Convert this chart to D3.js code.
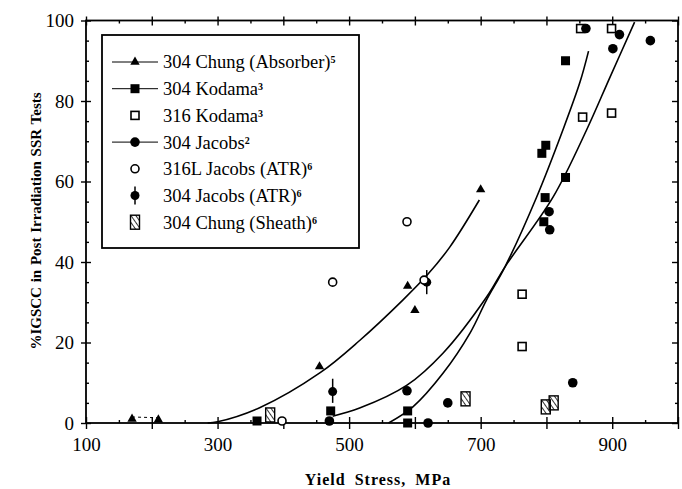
<!DOCTYPE html>
<html>
<head>
<meta charset="utf-8">
<script src="https://cdn.jsdelivr.net/npm/d3@7"></script>
<style>
body { margin: 0; background: #fff; }
text { font-family: "Liberation Serif", "DejaVu Serif", serif; fill: #000; }
</style>
</head>
<body>
<script>
// data (MPa, % IGSCC)
var chungAbsorber = [[170, 1], [210, 0.8], [455, 14], [589, 34], [600, 28], [700, 58]];
var kodama304 = [[360, 0.5], [472, 3], [589, 0], [589, 3], [793, 67], [799, 69], [798, 56], [796, 50], [829, 61], [829, 90]];
var kodama316 = [[763, 19], [763, 32], [852, 98], [899, 98], [855, 76], [899, 77]];
var jacobs304 = [[470, 0.5], [588, 8], [620, 0], [650, 5], [804, 52.5], [805, 48], [840, 10], [860, 98], [901, 93], [911, 96.5], [958, 95]];
var jacobsATR316L = [[398, 0.5], [475, 35], [588, 50], [614, 35.5]];
var jacobsATR304 = [[475, 7.8, 5, 11], [618, 35, 32, 38]];   // x, y, low, high
var chungSheath = [[380, 2], [677, 6], [799, 4], [811, 5]];

// fitted curves
var chungFit = [[285, 0], [300, 0.3], [364, 3.8], [456, 12.5], [516, 20.5], [582, 30.6], [620, 37], [653, 43.7], [698, 55.4]];
var kodamaFit = [[475, 1.7], [516, 3.7], [588, 9.4], [643, 17.4], [709, 31.3], [737, 38.8], [810, 56.1], [861, 72.8], [896, 85.7], [934, 99.6]];
var jacobsFit = [[560, 0], [597, 4], [643, 12.4], [684, 22.4], [709, 30.6], [737, 38.8], [785, 56.1], [825, 72.8], [851, 84.7], [864, 92.4]];

var xLabels = [100, 300, 500, 700, 900];
var yLabels = [0, 20, 40, 60, 80, 100];

var legendItems = [
  {name: "304 Chung (Absorber)", sup: "5", sym: "tri", line: true},
  {name: "304 Kodama", sup: "3", sym: "sq", line: true},
  {name: "316 Kodama", sup: "3", sym: "osq", line: false},
  {name: "304 Jacobs", sup: "2", sym: "circ", line: true},
  {name: "316L Jacobs (ATR)", sup: "6", sym: "ocirc", line: false},
  {name: "304 Jacobs (ATR)", sup: "6", sym: "atr", line: false},
  {name: "304 Chung (Sheath)", sup: "6", sym: "hatch", line: false}
];

var width = 682,
    height = 489;

var svg = d3.select("body").append("svg")
    .attr("width", width)
    .attr("height", height)
    .style("display", "block");

var defs = svg.append("defs");
defs.append("pattern")
    .attr("id", "hatch")
    .attr("patternUnits", "userSpaceOnUse")
    .attr("width", 4)
    .attr("height", 4)
    .attr("patternTransform", "rotate(-35)")
  .append("line")
    .attr("x1", 0).attr("y1", 0).attr("x2", 0).attr("y2", 4)
    .attr("stroke", "#000")
    .attr("stroke-width", 1.6);

var x = d3.scaleLinear().domain([100, 1000]).range([86, 678]);
var y = d3.scaleLinear().domain([0, 100]).range([423, 20.5]);

var xMajor = d3.range(100, 1001, 100),
    xMinor = d3.range(150, 1000, 50).filter(function(v) { return v % 100 != 0; }),
    yMajor = d3.range(0, 101, 20),
    yMinor = d3.range(5, 100, 5).filter(function(v) { return v % 20 != 0; });

function noLabel() { return ""; }

function strip(g) {
  g.select(".domain").remove();
  g.selectAll(".tick line").attr("stroke-width", 1.4);
  return g;
}

// bottom axis
svg.append("g").attr("transform", "translate(0,423)")
    .call(d3.axisBottom(x).tickValues(xMajor).tickSize(6).tickPadding(9)
      .tickFormat(function(d) { return xLabels.indexOf(d) >= 0 ? d : ""; }))
    .call(strip)
    .selectAll("text").style("font-size", "19px").style("font-family", null);
svg.append("g").attr("transform", "translate(0,423)")
    .call(d3.axisBottom(x).tickValues(xMajor).tickSize(-6).tickFormat(noLabel)).call(strip);
svg.append("g").attr("transform", "translate(0,423)")
    .call(d3.axisBottom(x).tickValues(xMinor).tickSize(-3).tickFormat(noLabel)).call(strip);

// top axis
svg.append("g").attr("transform", "translate(0,20.5)")
    .call(d3.axisTop(x).tickValues(xMajor).tickSize(4).tickFormat(noLabel)).call(strip);
svg.append("g").attr("transform", "translate(0,20.5)")
    .call(d3.axisTop(x).tickValues(xMajor).tickSize(-5).tickFormat(noLabel)).call(strip);
svg.append("g").attr("transform", "translate(0,20.5)")
    .call(d3.axisTop(x).tickValues(xMinor).tickSize(-3).tickFormat(noLabel)).call(strip);

// left axis
svg.append("g").attr("transform", "translate(86,0)")
    .call(d3.axisLeft(y).tickValues(yMajor).tickSize(5).tickPadding(7)
      .tickFormat(function(d) { return yLabels.indexOf(d) >= 0 ? d : ""; }))
    .call(strip)
    .selectAll("text").style("font-size", "19px").style("font-family", null);
svg.append("g").attr("transform", "translate(86,0)")
    .call(d3.axisLeft(y).tickValues(yMajor).tickSize(-5).tickFormat(noLabel)).call(strip);
svg.append("g").attr("transform", "translate(86,0)")
    .call(d3.axisLeft(y).tickValues(yMinor).tickSize(-3).tickFormat(noLabel)).call(strip);

// right axis
svg.append("g").attr("transform", "translate(678,0)")
    .call(d3.axisRight(y).tickValues(yMajor).tickSize(-6).tickFormat(noLabel)).call(strip);
svg.append("g").attr("transform", "translate(678,0)")
    .call(d3.axisRight(y).tickValues(yMinor).tickSize(-3).tickFormat(noLabel)).call(strip);

// frame
svg.append("rect")
    .attr("x", x(100)).attr("y", y(100))
    .attr("width", x(1000) - x(100)).attr("height", y(0) - y(100))
    .attr("fill", "none").attr("stroke", "#000").attr("stroke-width", 1.8);

// axis titles
svg.append("text")
    .attr("x", 378).attr("y", 485)
    .attr("text-anchor", "middle")
    .style("font-size", "16px").style("font-weight", "bold")
    .style("letter-spacing", "1px").style("word-spacing", "4px")
    .text("Yield Stress, MPa");

svg.append("text")
    .attr("transform", "translate(41,221) rotate(-90)")
    .attr("text-anchor", "middle")
    .style("font-size", "15px").style("font-weight", "bold")
    .style("word-spacing", "1px")
    .text("%IGSCC in Post Irradiation SSR Tests");

// fitted curves
var line = d3.line()
    .x(function(d) { return x(d[0]); })
    .y(function(d) { return y(d[1]); })
    .curve(d3.curveCatmullRom);

[chungFit, kodamaFit, jacobsFit].forEach(function(c) {
  svg.append("path")
      .datum(c)
      .attr("d", line)
      .attr("fill", "none")
      .attr("stroke", "#000")
      .attr("stroke-width", 1.6);
});

// dashed link between the two low Chung points
svg.append("path")
    .datum(chungAbsorber.slice(0, 2))
    .attr("d", d3.line().x(function(d) { return x(d[0]); }).y(function(d) { return y(d[1]) - 2; }))
    .attr("fill", "none").attr("stroke", "#000")
    .attr("stroke-width", 1).attr("stroke-dasharray", "3,3");

// markers
function drawSym(g, kind) {
  if (kind == "tri") {
    g.append("path").attr("d", d3.symbol().type(d3.symbolTriangle).size(38)).attr("fill", "#000");
  } else if (kind == "sq") {
    g.append("rect").attr("x", -4.5).attr("y", -4.5).attr("width", 9).attr("height", 9).attr("fill", "#000");
  } else if (kind == "osq") {
    g.append("rect").attr("x", -4).attr("y", -4).attr("width", 8).attr("height", 8)
        .attr("fill", "#fff").attr("stroke", "#000").attr("stroke-width", 1.6);
  } else if (kind == "circ") {
    g.append("circle").attr("r", 4.8).attr("fill", "#000");
  } else if (kind == "ocirc") {
    g.append("circle").attr("r", 4).attr("fill", "#fff").attr("stroke", "#000").attr("stroke-width", 1.6);
  } else if (kind == "atr") {
    g.append("line").attr("y1", -9).attr("y2", 9).attr("stroke", "#000").attr("stroke-width", 1.5);
    g.append("circle").attr("r", 4.5).attr("fill", "#000");
  } else if (kind == "hatch") {
    g.append("rect").attr("x", -4.5).attr("y", -7).attr("width", 9).attr("height", 14)
        .attr("fill", "url(#hatch)").attr("stroke", "#000").attr("stroke-width", 1.4);
  }
}

function plot(data, kind) {
  svg.append("g").selectAll("g")
      .data(data)
      .enter().append("g")
      .attr("transform", function(d) { return "translate(" + x(d[0]) + "," + y(d[1]) + ")"; })
      .each(function() { drawSym(d3.select(this), kind); });
}

plot(chungSheath, "hatch");
plot(chungAbsorber, "tri");
plot(kodama304, "sq");
plot(kodama316, "osq");
plot(jacobs304, "circ");

// 304 Jacobs (ATR) with scatter bars
var atr = svg.append("g").selectAll("g")
    .data(jacobsATR304)
    .enter().append("g");
atr.append("line")
    .attr("x1", function(d) { return x(d[0]); })
    .attr("x2", function(d) { return x(d[0]); })
    .attr("y1", function(d) { return y(d[2]); })
    .attr("y2", function(d) { return y(d[3]); })
    .attr("stroke", "#000").attr("stroke-width", 1.5);
atr.append("circle")
    .attr("cx", function(d) { return x(d[0]); })
    .attr("cy", function(d) { return y(d[1]); })
    .attr("r", 4.5).attr("fill", "#000");

plot(jacobsATR316L, "ocirc");

// legend
var legend = svg.append("g");
legend.append("rect")
    .attr("x", 102).attr("y", 35)
    .attr("width", 257).attr("height", 213)
    .attr("fill", "#fff").attr("stroke", "#000").attr("stroke-width", 1.8);

var rows = legend.selectAll("g.row")
    .data(legendItems)
    .enter().append("g")
    .attr("class", "row")
    .attr("transform", function(d, i) { return "translate(135," + (62 + i * 26.7) + ")"; });

rows.filter(function(d) { return d.line; })
  .append("line")
    .attr("x1", -23).attr("x2", 23)
    .attr("stroke", "#000").attr("stroke-width", 1);

rows.each(function(d) { drawSym(d3.select(this), d.sym); });

var labels = rows.append("text")
    .attr("x", 28)
    .attr("dy", "0.35em")
    .style("font-size", "18.5px");
labels.append("tspan").text(function(d) { return d.name; });
labels.append("tspan")
    .attr("dy", "-0.5em")
    .style("font-size", "10px")
    .style("font-weight", "bold")
    .text(function(d) { return d.sup; });
</script>
</body>
</html>
